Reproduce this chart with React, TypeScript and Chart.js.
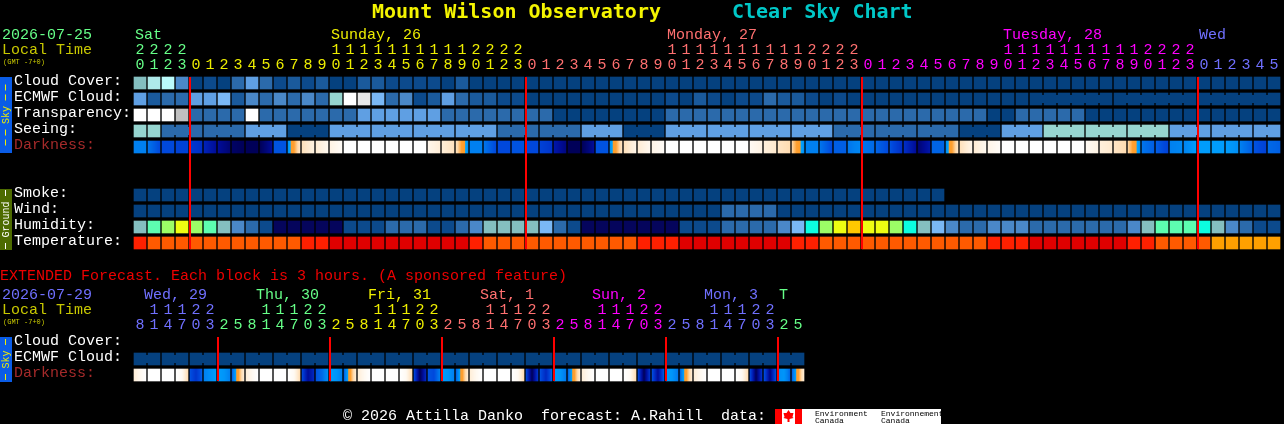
import React, { useEffect, useRef } from "react";
import { Chart, registerables } from "chart.js";

Chart.register(...registerables);

const MONO = '"Liberation Mono", "DejaVu Sans Mono", monospace';
const TITLE_FONT = '"DejaVu Sans Mono", monospace';

// ---------- colours ----------
const GREEN = "#66ff88";
const YELLOW = "#eeee00";
const SALMON = "#ff7070";
const MAGENTA = "#ff00ff";
const BLUE = "#7070ff";
const OLIVE_TEXT = "#c8c800";
const DARK_RED = "#a52a2a";

const palette: Record<string, string> = {
  a: "#05417f", b: "#0c4a8c", c: "#1a5a9c", d: "#2b6aab", e: "#4a88c8", f: "#5f9fe3", g: "#7ab8f5",
  h: "#84bfc0", i: "#96d5d0", j: "#aeeaea", k: "#bbfbfb", l: "#e8e8e8", m: "#ffffff", n: "#c0c0c0",
  o: "#05055c", p: "#5dfdb0", q: "#9cfd66", r: "#eefd12", s: "#ffc800", t: "#0cfde0",
  u: "#ff2000", v: "#ff5a00", w: "#e00000", x: "#ffa000",
};

// ---------- main forecast (82 hourly blocks) ----------
const hours = [20,21,22,23,
  0,1,2,3,4,5,6,7,8,9,10,11,12,13,14,15,16,17,18,19,20,21,22,23,
  0,1,2,3,4,5,6,7,8,9,10,11,12,13,14,15,16,17,18,19,20,21,22,23,
  0,1,2,3,4,5,6,7,8,9,10,11,12,13,14,15,16,17,18,19,20,21,22,23,
  0,1,2,3,4,5];
const dayOfHour = [0,0,0,0,
  ...Array(24).fill(1), ...Array(24).fill(2), ...Array(24).fill(3), ...Array(6).fill(4)];
const dayColors = [GREEN, YELLOW, SALMON, MAGENTA, BLUE];
const dayLabels = ["Sat", "Sunday, 26", "Monday, 27", "Tuesday, 28", "Wed"];
const dayLabelCols = [0, 14, 38, 62, 76];
const midnightCols = [4, 28, 52, 76];

const rowNames = ["Cloud Cover:", "ECMWF Cloud:", "Transparency:", "Seeing:", "Darkness:", "", "", "Smoke:", "Wind:", "Humidity:", "Temperature:"];

const cloudCover = ("hjkeabadfdbcbcaaccbbbbac" + "a".repeat(58)).split("");
const ecmwfCloud = ("fcddffgcededed" + "imlgdeb" + "cfdccbb" + "a".repeat(10) + "bacbabbdccbaba" + "a".repeat(30)).split("");
const transparency = ("mmmn" + "dddd" + "m" + "ddddddd" + "ffffff" + "dddddddd" + "aaaaaaaa" + "d".repeat(23) + "aa" + "ddddd" + "a".repeat(14)).split("");
const seeing = ("ii" + "ddd" + "ddd" + "fff" + "aaa" + "fff" + "fff" + "fff" + "fff" + "ddd" + "ddd" + "fff" + "aaa" + "fff" + "fff" + "fff" + "fff" + "ddd" + "ddd" + "ddd" + "aaa" + "fff" + "iii" + "iii" + "iii" + "fff" + "fff" + "ff").split("");
const smoke = "a".repeat(58).split("");
const wind = ("a".repeat(42) + "dddd" + "a".repeat(36)).split("");
const humidity = ("hpqrqph" + "edb" + "ooooo" + "bbb" + "ddd" + "bb" + "de" + "hhhh" + "gdb" + "ooooooo" + "bbb" + "dddd" + "eg" + "tqrs" + "rrqt" + "hge" + "dd" + "eee" + "ddddddd" + "e" + "hppp" + "the" + "dbb").split("");
const temperature = ("u" + "v".repeat(11) + "uu" + "w".repeat(10) + "u" + "v".repeat(11) + "uuu" + "w".repeat(8) + "uu" + "v".repeat(12) + "uuu" + "w".repeat(7) + "uu" + "vvvv" + "xxxxx").split("");

// darkness: 0 daylight, 1 cream, 2 peach, 3 orange, 4 sky blue, 5..9 deepening night
const darkFrom = [5,5.2,6,6.2,6.5,7.2,8,8.8,9,9,5.8,4.6,1.6,1.1,0.7,0,0,0,0,0,0,0.5,1,1.6,5,5.2,6,5.8,6,6.2,7.6,9,9,5.8,4.6,1.6,1.1,0.6,0,0,0,0,0,0,0.3,0.9,1.4,2,5,5.2,5.6,5.2,5.2,5.5,5.8,6.8,8.6,5.5,4.6,1.6,1.1,0.6,0,0,0,0,0,0,0.3,0.9,1.4,2,5.2,5.6,5,4.9,4.2,4.2,4.2,5,5.8,5.4];
const darkTo = [5,6,6,6.2,6.8,8,8.6,9,9,8,5.8,1.4,0.8,0.4,0.2,0,0,0,0,0,0,1,1.5,4.6,5,6,6,5.8,6,6.6,8.4,9,8,5.8,1.4,0.6,0.4,0.2,0,0,0,0,0,0,0.7,1.2,1.8,4.6,5,6,5.6,4.8,5.4,6,6.8,8,7.6,5.5,1.4,0.6,0.4,0.2,0,0,0,0,0,0,0.7,1.2,1.8,4.6,5.6,6.2,4.8,4.2,4.2,4.2,4.6,5.6,6.2,5.6];

// ---------- extended forecast (48 three-hour blocks) ----------
const extHours = [8,11,14,17,20,23,2,5];
const extRowNames = ["Cloud Cover:", "ECMWF Cloud:", "Darkness:"];
const extDayLabels = ["Wed, 29", "Thu, 30", "Fri, 31", "Sat, 1", "Sun, 2", "Mon, 3", "T"];
const extDayLabelCols = [1, 9, 17, 25, 33, 41, 46];
const extDayColors = [BLUE, GREEN, YELLOW, SALMON, MAGENTA, BLUE, GREEN];
const extMidnightCols = [6, 14, 22, 30, 38, 46];
const extEcmwf = "a".repeat(48).split("");
const extDarkFrom = [1,0,0,0,5.8,5,4.2,5.6, 1,0,0,0,6,5.8,4.2,5.6, 1,0,0,0,6,5.8,4.2,5.6, 1,0,0,0,6,5.8,4.2,5.6, 1,0,0,0,6,5.8,4.2,5.6, 1,0,0,0,6,5.8,4.6,5.6];
const extDarkMid = [0.4,0,0,0.3,6.6,4.6,4.4,3.2, 0.4,0,0,0.3,8,5.4,4.4,3.2, 0.4,0,0,0.3,9,6,4.4,3.2, 0.4,0,0,0.3,9,7,4.4,3.2, 0.4,0,0,0.3,9,8,4.4,3.2, 0.4,0,0,0.3,9,8.4,4.4,3.2];
const extDarkTo = [0,0,0,1.8,5.6,4.2,5,1, 0,0,0,1.8,7,4.6,5,1, 0,0,0,1.8,7,5,5,1, 0,0,0,1.8,6.5,5.4,5.2,1, 0,0,0,1.8,6.5,5.6,5.2,1, 0,0,0,1.8,6.6,5.8,5.5,1];

// blocks that belong together are joined by a short bridge
const seeingGroups = { first: 2, size: 3 };
const ecmwfGroups = { first: 64, size: 6 };
const extGroups = { first: 0, size: 2 };

const darkStops: [number, string][] = [
  [0, "#ffffff"], [1, "#ffeed8"], [2, "#ffd8a8"], [3, "#ffa030"], [3.75, "#ff9c28"], [4, "#00a4ff"],
  [5, "#0080f0"], [6, "#0048dc"], [7, "#0028c0"], [8, "#000c98"], [9, "#000058"],
];

function hexToRgb(h: string) {
  return [parseInt(h.slice(1, 3), 16), parseInt(h.slice(3, 5), 16), parseInt(h.slice(5, 7), 16)];
}
function darkColor(level: number) {
  const l = Math.max(0, Math.min(9, level));
  let i = 0;
  while (i < darkStops.length - 2 && darkStops[i + 1][0] <= l) i++;
  const t = (l - darkStops[i][0]) / (darkStops[i + 1][0] - darkStops[i][0]);
  const a = hexToRgb(darkStops[i][1]);
  const b = hexToRgb(darkStops[i + 1][1]);
  const c = a.map((v, k) => Math.round(v + (b[k] - v) * t));
  return `rgb(${c[0]},${c[1]},${c[2]})`;
}
function darkGradient(chart: any, i: number, stops: number[]) {
  const x = chart.scales.x.getPixelForValue(i);
  if (!Number.isFinite(x)) return "#000000";
  const g = chart.ctx.createLinearGradient(x - 6, 0, x + 6, 0);
  const n = 24;
  for (let k = 0; k <= n; k++) {
    const p = k / n;
    const s = p * (stops.length - 1);
    const j = Math.min(stops.length - 2, Math.floor(s));
    g.addColorStop(p, darkColor(stops[j] + (stops[j + 1] - stops[j]) * (s - j)));
  }
  return g;
}

const PAD = 0.125;
function rowData(levels: (string | null)[], row: number) {
  return levels.map((v) => (v == null ? null : [row + PAD, row + 1 - PAD]));
}
function levelDataset(levels: string[], row: number) {
  return {
    data: rowData(levels, row),
    backgroundColor: (c: any) => palette[levels[c.dataIndex]],
    grouped: false, barThickness: 12, borderWidth: 0, borderSkipped: false,
  };
}
function darkDataset(stops: number[][], row: number) {
  return {
    data: stops[0].map(() => [row + PAD, row + 1 - PAD]),
    backgroundColor: (c: any) =>
      c.chart.scales && c.chart.scales.x && c.dataIndex != null
        ? darkGradient(c.chart, c.dataIndex, stops.map((s) => s[c.dataIndex]))
        : "#000000",
    grouped: false, barThickness: 12, borderWidth: 0, borderSkipped: false,
  };
}

function drawText(ctx: CanvasRenderingContext2D, t: string, x: number, y: number, color: string, font = `15px ${MONO}`) {
  ctx.save();
  ctx.font = font;
  ctx.fillStyle = color;
  ctx.textAlign = "left";
  ctx.textBaseline = "middle";
  ctx.fillText(t, x, y);
  ctx.restore();
}

function sideBar(ctx: CanvasRenderingContext2D, top: number, h: number, bg: string, fg: string, word: string) {
  ctx.save();
  ctx.fillStyle = bg;
  ctx.fillRect(0, top, 12, h);
  ctx.fillStyle = fg;
  const mid = top + h / 2;
  const half = word.length * 3 - 0.5;
  for (let y = mid - half - 6; y - 6 >= top; y -= 10) ctx.fillRect(5, y - 6, 1, 6);
  for (let y = mid + half + 6; y + 6 <= top + h; y += 10) ctx.fillRect(5, y, 1, 6);
  ctx.translate(6, mid);
  ctx.rotate(-Math.PI / 2);
  ctx.font = `10px ${MONO}`;
  ctx.textAlign = "center";
  ctx.textBaseline = "middle";
  ctx.fillText(word, 0, 0);
  ctx.restore();
}

function bridges(chart: any, levels: (string | null)[], row: number, g: { first: number; size: number }) {
  const { ctx, scales: { x, y } } = chart;
  levels.forEach((v, i) => {
    if (v == null || i < g.first || i + 1 >= levels.length) return;
    if ((i - g.first + 1) % g.size === 0) return;
    if (levels[i + 1] !== v) return;
    ctx.fillStyle = palette[v];
    const top = y.getPixelForValue(row + 0.25);
    const bot = y.getPixelForValue(row + 0.75);
    ctx.fillRect(x.getPixelForValue(i) + 6, top, 2, bot - top);
  });
}

function redLines(chart: any, cols: number[], yStart: number, yEnd: number) {
  const { ctx, scales: { x, y } } = chart;
  ctx.fillStyle = "#ff0000";
  const step = x.getPixelForValue(1) - x.getPixelForValue(0);
  cols.forEach((c) => {
    const px = x.getPixelForValue(c) - step / 2;
    ctx.fillRect(px, y.getPixelForValue(yStart), 2, y.getPixelForValue(yEnd) - y.getPixelForValue(yStart));
  });
}

function tickText(h: number) {
  return [h >= 10 ? String(Math.floor(h / 10)) : "", String(h % 10)];
}

function makeOptions(rowsCount: number, names: string[], tickColor: (i: number) => string, hourAt: (i: number) => number, topH: number, bottomPad: number, rightPad: number) {
  return {
    animation: false as const,
    responsive: false,
    devicePixelRatio: 1,
    layout: { padding: { left: 14, right: rightPad, top: 0, bottom: bottomPad } },
    plugins: { legend: { display: false }, tooltip: { enabled: false }, title: { display: false } },
    scales: {
      x: {
        type: "category" as const,
        position: "top" as const,
        offset: true,
        grid: { display: false },
        border: { display: false },
        afterFit: (s: any) => { s.height = topH; },
        ticks: {
          autoSkip: false, maxRotation: 0, minRotation: 0, padding: -6,
          font: { family: MONO, size: 15, lineHeight: 1 },
          color: (c: any) => tickColor(c.index),
          callback: (_: any, i: number) => tickText(hourAt(i)),
        },
      },
      y: {
        type: "linear" as const,
        reverse: true,
        min: 0,
        max: rowsCount,
        grid: { display: false },
        border: { display: false },
        afterFit: (s: any) => { s.width = 119; },
        afterBuildTicks: (s: any) => {
          s.ticks = names.map((n, i) => ({ value: i + 0.5 })).filter((t) => names[Math.floor(t.value)] !== "");
        },
        ticks: {
          autoSkip: false, crossAlign: "far" as const, padding: 0, labelOffset: -2,
          font: { family: MONO, size: 15 },
          color: (c: any) => (names[Math.floor(c.tick.value)] === "Darkness:" ? DARK_RED : "#ffffff"),
          callback: (v: any) => names[Math.floor(v)],
        },
      },
    },
  };
}

export default function App() {
  const topRef = useRef<HTMLCanvasElement>(null);
  const botRef = useRef<HTMLCanvasElement>(null);

  useEffect(() => {
    const topPlugin = {
      id: "topDecor",
      afterDatasetsDraw(chart: any) {
        const { ctx, scales: { x } } = chart;
        bridges(chart, seeing, 3, seeingGroups);
        bridges(chart, ecmwfCloud, 1, ecmwfGroups);
        redLines(chart, midnightCols, PAD, 11 - PAD);
        drawText(ctx, "Mount Wilson Observatory", 372, 13, "#f4f400", `bold 20px ${TITLE_FONT}`);
        drawText(ctx, "Clear Sky Chart", 732, 13, "#00c8c8", `bold 20px ${TITLE_FONT}`);
        drawText(ctx, "2026-07-25", 2, 35, GREEN);
        drawText(ctx, "Local Time", 2, 50, OLIVE_TEXT);
        drawText(ctx, "(GMT -7+0)", 3, 62, OLIVE_TEXT, `7px ${MONO}`);
        dayLabels.forEach((t, i) => drawText(ctx, t, x.getPixelForValue(dayLabelCols[i]) - 5, 35, dayColors[i]));
        sideBar(ctx, 77, 76, "#0a5ce6", "#eeee00", "Sky");
        sideBar(ctx, 189, 61, "#4d6b00", "#ffffff", "Ground");
        drawText(ctx, "EXTENDED Forecast. Each block is 3 hours. (A sponsored feature)", 0, 276, "#ee0000");
      },
    };
    const top = new Chart(topRef.current!, {
      type: "bar",
      data: {
        labels: hours.map(String),
        datasets: [
          levelDataset(cloudCover, 0),
          levelDataset(ecmwfCloud, 1),
          levelDataset(transparency, 2),
          levelDataset(seeing, 3),
          darkDataset([darkFrom, darkTo], 4),
          levelDataset(smoke, 7),
          levelDataset(wind, 8),
          levelDataset(humidity, 9),
          levelDataset(temperature, 10),
        ] as any,
      },
      options: makeOptions(11, rowNames, (i) => dayColors[dayOfHour[i]], (i) => hours[i], 75, 35, 3) as any,
      plugins: [topPlugin],
    });

    const extCol = (i: number) => {
      if (i < 6) return BLUE;
      return [GREEN, YELLOW, SALMON, MAGENTA, BLUE, GREEN][Math.floor((i - 6) / 8)];
    };
    const botPlugin = {
      id: "botDecor",
      afterDatasetsDraw(chart: any) {
        const { ctx, scales: { x } } = chart;
        const Y = -286;
        bridges(chart, extEcmwf, 1, extGroups);
        redLines(chart, extMidnightCols, PAD, 3 - PAD);
        drawText(ctx, "2026-07-29", 2, 295 + Y, BLUE);
        drawText(ctx, "Local Time", 2, 310 + Y, OLIVE_TEXT);
        drawText(ctx, "(GMT -7+0)", 3, 322 + Y, OLIVE_TEXT, `7px ${MONO}`);
        extDayLabels.forEach((t, i) =>
          drawText(ctx, t, x.getPixelForValue(extDayLabelCols[i]) - (i === 6 ? 5 : 10), 295 + Y, extDayColors[i]));
        sideBar(ctx, 337 + Y, 45, "#0a5ce6", "#eeee00", "Sky");
        drawText(ctx, "© 2026 Attilla Danko  forecast: A.Rahill  data:", 343, 416 + Y, "#ffffff");
        // Environment Canada logo
        ctx.save();
        ctx.fillStyle = "#ffffff";
        ctx.fillRect(775, 409 + Y, 166, 15);
        ctx.fillStyle = "#ff0000";
        ctx.fillRect(775, 409 + Y, 7, 15);
        ctx.fillRect(795, 409 + Y, 7, 15);
        ctx.beginPath();
        const cx = 788.5, cy = 416 + Y;
        ctx.moveTo(cx, cy - 6); ctx.lineTo(cx + 2, cy - 3); ctx.lineTo(cx + 5, cy - 3); ctx.lineTo(cx + 4, cy + 1);
        ctx.lineTo(cx + 5, cy + 2); ctx.lineTo(cx + 1, cy + 3); ctx.lineTo(cx + 1, cy + 6); ctx.lineTo(cx - 1, cy + 6);
        ctx.lineTo(cx - 1, cy + 3); ctx.lineTo(cx - 5, cy + 2); ctx.lineTo(cx - 4, cy + 1); ctx.lineTo(cx - 5, cy - 3); ctx.lineTo(cx - 2, cy - 3);
        ctx.closePath();
        ctx.fill();
        ctx.restore();
        drawText(ctx, "Environment", 815, 414 + Y, "#000000", `8px ${MONO}`);
        drawText(ctx, "Canada", 815, 421 + Y, "#000000", `8px ${MONO}`);
        drawText(ctx, "Environnement", 881, 414 + Y, "#000000", `8px ${MONO}`);
        drawText(ctx, "Canada", 881, 421 + Y, "#000000", `8px ${MONO}`);
      },
    };
    const extLabels = Array.from({ length: 48 }, (_, i) => extHours[i % 8]);
    const bot = new Chart(botRef.current!, {
      type: "bar",
      data: {
        labels: extLabels.map(String),
        datasets: [
          levelDataset(extEcmwf, 1),
          darkDataset([extDarkFrom, extDarkMid, extDarkTo], 2),
        ] as any,
      },
      options: makeOptions(3, extRowNames, extCol, (i) => extLabels[i], 49, 41, 479) as any,
      plugins: [botPlugin],
    });
    return () => { top.destroy(); bot.destroy(); };
  }, []);

  return (
    <div style={{ position: "fixed", left: 0, top: 0, width: 1284, height: 424, background: "#000", overflow: "hidden" }}>
      <canvas ref={topRef} width={1284} height={286} style={{ position: "absolute", left: 0, top: 0, display: "block" }} />
      <canvas ref={botRef} width={1284} height={138} style={{ position: "absolute", left: 0, top: 286, display: "block" }} />
    </div>
  );
}
